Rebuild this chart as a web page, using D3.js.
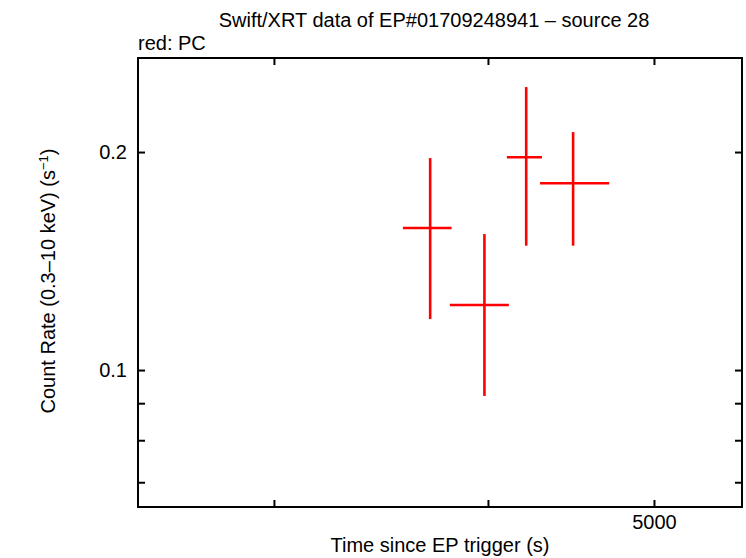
<!DOCTYPE html>
<html>
<head>
<meta charset="utf-8">
<script src="https://cdn.jsdelivr.net/npm/d3@7"></script>
<style>
  body { margin: 0; background: #fff; }
  svg { display: block; }
  text { font-family: "Liberation Sans", Arial, sans-serif; fill: #000; }
</style>
</head>
<body>
<svg id="chart" width="746" height="558"></svg>
<script>
// Data (PC mode)
const time     = [3701, 3981, 4211, 4485];
const timeLo   = [3568, 3800, 4103, 4290];
const timeHi   = [3809, 4114, 4301, 4708];
const rate     = [0.1571, 0.1230, 0.1967, 0.1811];
const rateLo   = [0.1176, 0.0921, 0.1485, 0.1485];
const rateHi   = [0.1962, 0.1541, 0.2459, 0.2131];

const xTicks = [3000, 4000, 5000];
const xTickLabels = ["", "", "5000"];
const yTicks = [0.07, 0.08, 0.09, 0.1, 0.2];
const yTickLabels = ["", "", "", "0.1", "0.2"];

const titleText = "Swift/XRT data of EP#01709248941 \u2013 source 28";
const legendText = "red: PC";
const xLabel = "Time since EP trigger (s)";

const svg = d3.select("#chart");
const L = 138, R = 742, T = 58, B = 507;
const FS = 20;

const x = d3.scaleLog().domain([2499, 5628]).range([L, R]);
const y = d3.scaleLog().domain([0.0647, 0.2697]).range([B, T]);

const tickLen = 7;
// axes
const gB = svg.append("g").attr("transform", `translate(0,${B})`)
  .call(d3.axisBottom(x).tickValues(xTicks).tickFormat((d,i)=>xTickLabels[i]).tickSizeInner(-tickLen).tickSizeOuter(0).tickPadding(8));
const gT = svg.append("g").attr("transform", `translate(0,${T})`)
  .call(d3.axisTop(x).tickValues(xTicks).tickFormat("").tickSizeInner(-tickLen).tickSizeOuter(0));
const gL = svg.append("g").attr("transform", `translate(${L},0)`)
  .call(d3.axisLeft(y).tickValues(yTicks).tickFormat((d,i)=>yTickLabels[i]).tickSizeInner(-tickLen).tickSizeOuter(0).tickPadding(11));
const gR = svg.append("g").attr("transform", `translate(${R},0)`)
  .call(d3.axisRight(y).tickValues(yTicks).tickFormat("").tickSizeInner(-tickLen).tickSizeOuter(0));

[gB, gT, gL, gR].forEach(g => {
  g.select(".domain").remove();
  g.selectAll(".tick line").attr("stroke", "#000").attr("stroke-width", 2);
  g.selectAll(".tick text").attr("font-size", FS).attr("font-family", "Liberation Sans, Arial, sans-serif");
});
gB.selectAll(".tick text").attr("dy", "0.72em");

// frame
svg.append("rect").attr("x", L).attr("y", T).attr("width", R - L).attr("height", B - T)
  .attr("fill", "none").attr("stroke", "#000").attr("stroke-width", 2);

// error bars
const idx = d3.range(time.length);
const g = svg.append("g");
g.selectAll("line.h").data(idx).join("line").attr("class", "h")
  .attr("x1", i => x(timeLo[i])).attr("x2", i => x(timeHi[i]))
  .attr("y1", i => y(rate[i])).attr("y2", i => y(rate[i]))
  .attr("stroke", "#ff0000").attr("stroke-width", 2.6);
g.selectAll("line.v").data(idx).join("line").attr("class", "v")
  .attr("x1", i => x(time[i])).attr("x2", i => x(time[i]))
  .attr("y1", i => y(rateLo[i])).attr("y2", i => y(rateHi[i]))
  .attr("stroke", "#ff0000").attr("stroke-width", 2.6);

// texts
svg.append("text").attr("x", 434).attr("y", 27).attr("text-anchor", "middle")
  .attr("font-size", FS).text(titleText);
svg.append("text").attr("x", 138).attr("y", 50).attr("font-size", FS).text(legendText);
svg.append("text").attr("x", 440).attr("y", 552).attr("text-anchor", "middle")
  .attr("font-size", FS).text(xLabel);

const yl = svg.append("text").attr("transform", "translate(55,281) rotate(-90)")
  .attr("text-anchor", "middle").attr("font-size", FS);
yl.append("tspan").text("Count Rate (0.3\u201310 keV) (s");
yl.append("tspan").attr("font-size", 13).attr("dy", "-0.55em").text("\u22121");
yl.append("tspan").attr("font-size", FS).attr("dy", "0.36em").text(")");
</script>
</body>
</html>
